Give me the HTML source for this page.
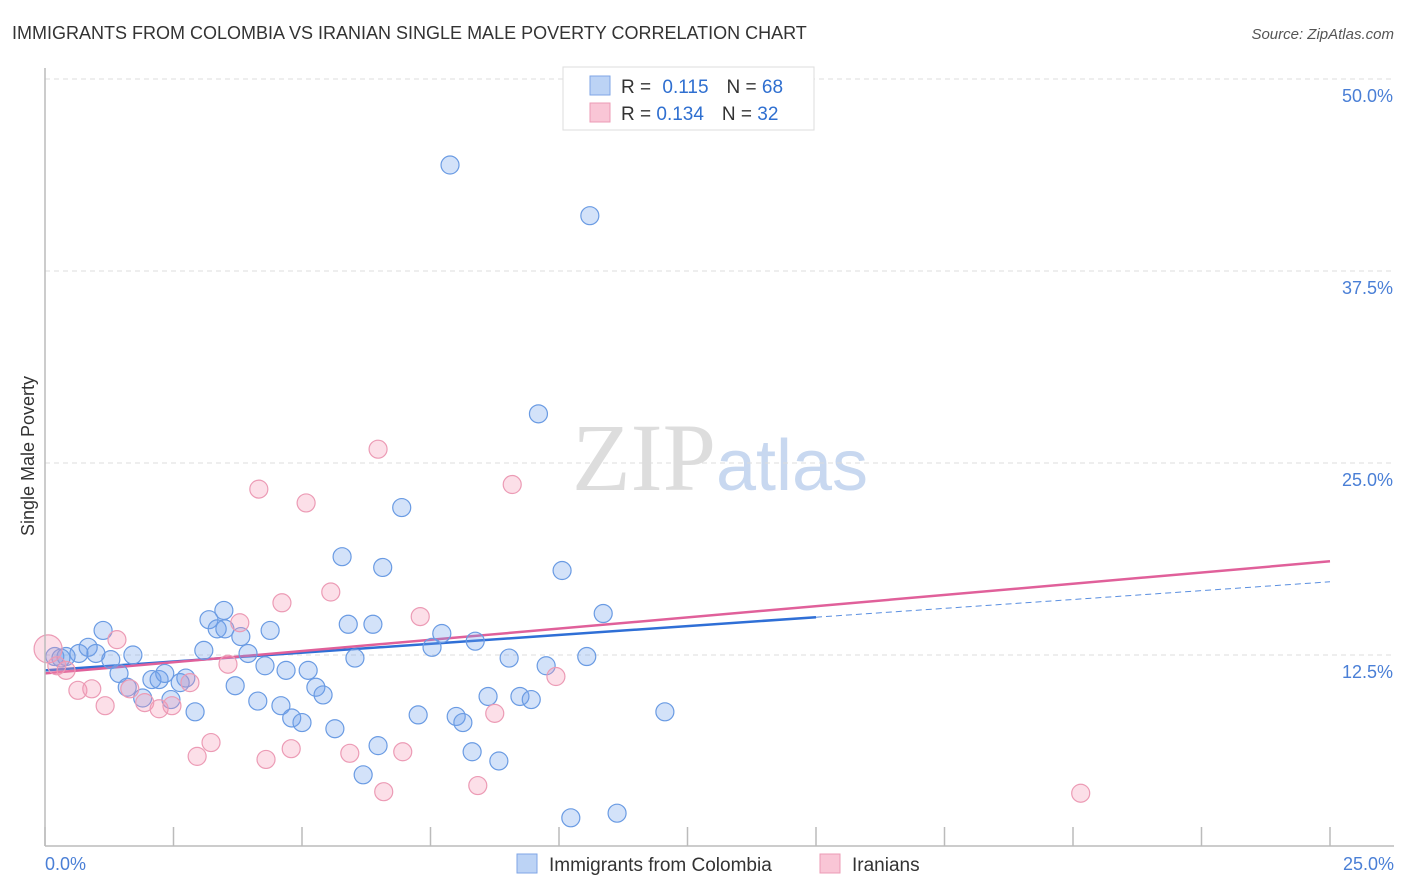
<!DOCTYPE html>
<html><head><meta charset="utf-8"><style>
body{margin:0;background:#fff;font-family:"Liberation Sans",sans-serif;}
svg{display:block}
</style></head><body>
<svg id="chart" width="1406" height="892">
<text x="12" y="39" font-size="18" fill="#333">IMMIGRANTS FROM COLOMBIA VS IRANIAN SINGLE MALE POVERTY CORRELATION CHART</text>
<text x="1394" y="39" font-size="15" fill="#555" font-style="italic" text-anchor="end">Source: ZipAtlas.com</text>
<text x="720" y="490" font-size="96" fill="#ddd" text-anchor="middle" font-family="Liberation Serif,serif">ZIP<tspan fill="#c8d8f0" font-family="Liberation Sans,sans-serif" font-size="72">atlas</tspan></text>
<text x="34" y="456" font-size="18" fill="#333" text-anchor="middle" transform="rotate(-90 34 456)">Single Male Poverty</text>
<g id="grid"></g><g id="ticks"></g><g id="trend"></g><g id="pts"></g>
<line x1="45" y1="68" x2="45" y2="846" stroke="#bbb" stroke-width="1.5"/>
<line x1="45" y1="846" x2="1394" y2="846" stroke="#bbb" stroke-width="1.5"/>
<text x="45" y="870" font-size="18" fill="#4a7fd6">0.0%</text>
<text x="1394" y="870" font-size="18" fill="#4a7fd6" text-anchor="end">25.0%</text>
<g>
<rect x="563" y="67" width="251" height="63" fill="#fff" stroke="#ddd"/>
<rect x="590" y="76" width="20" height="19" fill="#bcd3f5" stroke="#7fa6e6"/>
<rect x="590" y="103" width="20" height="19" fill="#f9c6d6" stroke="#ec9bb5"/>
<text x="621" y="93" font-size="19" fill="#333">R = <tspan fill="#2f6fd0" dx="6">0.115</tspan><tspan dx="18" fill="#333">N = </tspan><tspan fill="#2f6fd0">68</tspan></text>
<text x="621" y="120" font-size="19" fill="#333">R = <tspan fill="#2f6fd0">0.134</tspan><tspan dx="18" fill="#333">N = </tspan><tspan fill="#2f6fd0">32</tspan></text>
</g>
<g>
<rect x="517" y="854" width="20" height="19" fill="#bcd3f5" stroke="#7fa6e6"/>
<text x="549" y="871" font-size="19" fill="#333">Immigrants from Colombia</text>
<rect x="820" y="854" width="20" height="19" fill="#f9c6d6" stroke="#ec9bb5"/>
<text x="852" y="871" font-size="19" fill="#333">Iranians</text>
</g>
</svg>
<script>
const yTicks=[12.5,25,37.5,50];
const yTickLabels=["12.5%","25.0%","37.5%","50.0%"];
const xTicks=[0,2.5,5,7.5,10,12.5,15,17.5,20,22.5,25];
const colombiaX=[7.88,10.6,9.6,6.94,5.78,6.57,10.06,10.86,3.48,3.19,3.35,3.81,4.38,5.9,6.38,7.72,8.37,7.53,1.13,0.84,0.99,0.66,0.41,0.19,0.31,1.28,1.71,3.09,3.95,6.03,9.03,10.54,4.28,4.69,5.12,9.75,1.44,2.08,2.22,2.33,2.74,2.63,1.6,3.7,5.27,5.41,1.9,2.45,4.14,4.59,8.62,9.24,9.46,2.92,4.8,5,7.26,8.0,8.13,12.06,5.64,6.48,8.31,8.83,6.19,10.23,11.13,3.5];
const colombiaY=[44.4,41.1,28.2,22.1,18.9,18.2,18.0,15.2,15.4,14.8,14.2,13.7,14.1,14.5,14.5,13.9,13.4,13.0,14.1,13.0,12.6,12.6,12.4,12.4,12.3,12.2,12.5,12.8,12.6,12.3,12.3,12.4,11.8,11.5,11.5,11.8,11.3,10.9,10.9,11.3,11.0,10.7,10.4,10.5,10.4,9.9,9.7,9.6,9.5,9.2,9.8,9.8,9.6,8.8,8.4,8.1,8.6,8.5,8.1,8.8,7.7,6.6,6.2,5.6,4.7,1.9,2.2,14.2];
const iranX=[0.06,1.4,6.48,4.16,5.08,9.09,5.56,4.61,7.3,3.79,3.56,0.41,0.64,0.91,1.17,1.65,1.94,2.22,2.47,2.82,9.94,8.75,3.23,2.96,4.3,4.79,5.93,6.96,6.59,8.42,20.15,0.23];
const iranY=[12.9,13.5,25.9,23.3,22.4,23.6,16.6,15.9,15.0,14.6,11.9,11.5,10.2,10.3,9.2,10.3,9.4,9.0,9.2,10.7,11.1,8.7,6.8,5.9,5.7,6.4,6.1,6.2,3.6,4.0,3.5,11.8];
const trendBlue=[11.5,14.96];
const trendPink=[11.3,18.6];
const X0=45,X1=1330,Y0=847,YS=192/12.5;
const sx=v=>X0+(v/25)*(X1-X0);
const sy=v=>Y0-v*YS;
const NS="http://www.w3.org/2000/svg";
function mk(tag,attrs,parent){const e=document.createElementNS(NS,tag);for(const k in attrs)e.setAttribute(k,attrs[k]);document.getElementById(parent).appendChild(e);return e;}
yTicks.forEach((t,i)=>{
  const l=mk('line',{x1:45,x2:1394,y1:sy(t),y2:sy(t),stroke:'#ddd','stroke-dasharray':'5,4'},'grid');
  
  
  const tx=mk('text',{x:1393,y:sy(t)+23,'font-size':18,fill:'#4a7fd6','text-anchor':'end'},'grid');
  tx.textContent=yTickLabels[i];
  
  
});
xTicks.forEach(t=>{
  const l=mk('line',{x1:sx(t),x2:sx(t),y1:827,y2:846,stroke:'#bbb','stroke-width':1.5},'ticks');
  
  
});
const bx=15.0;
const by=v=>trendBlue[0]+(trendBlue[1]-trendBlue[0])*v/bx;
let t1=mk('line',{x1:sx(0),y1:sy(by(0)),x2:sx(bx),y2:sy(by(bx)),stroke:'#2f6fd6','stroke-width':2.5},'trend');


let t2=mk('line',{x1:sx(bx),y1:sy(by(bx)),x2:sx(25),y2:sy(by(25)),stroke:'#5a8fe0','stroke-width':1,'stroke-dasharray':'6,4'},'trend');


let t3=mk('line',{x1:sx(0),y1:sy(trendPink[0]),x2:sx(25),y2:sy(trendPink[1]),stroke:'#e0609a','stroke-width':2.5},'trend');


colombiaX.forEach((x,i)=>{
  const c=mk('circle',{cx:sx(x),cy:sy(colombiaY[i]),r:9,fill:'rgba(110,160,235,0.3)',stroke:'#6a9be3','stroke-width':1.2},'pts');
  
  
});
iranX.forEach((x,i)=>{
  const c=mk('circle',{cx:sx(x),cy:sy(iranY[i]),r:i===0?14:9,fill:'rgba(245,150,180,0.3)',stroke:'#ec9bb5','stroke-width':1.2},'pts');
  
  
});
</script>
</body></html>
